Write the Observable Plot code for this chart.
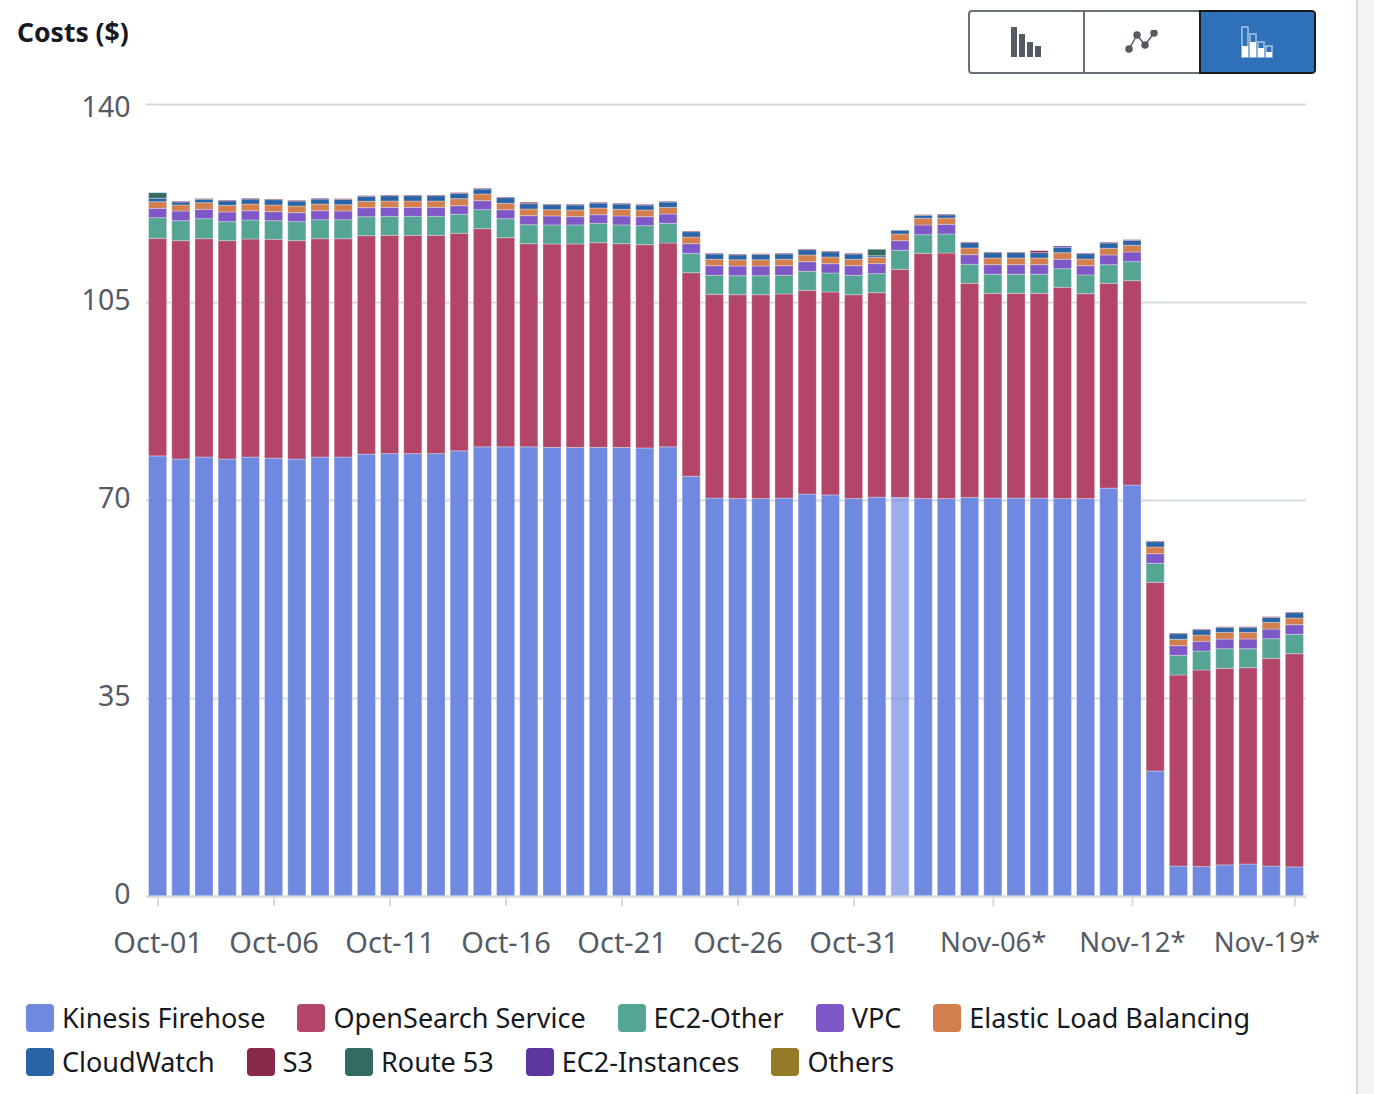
<!DOCTYPE html>
<html><head><meta charset="utf-8">
<script src="https://cdn.jsdelivr.net/npm/d3@7"></script>
<script src="https://cdn.jsdelivr.net/npm/@observablehq/plot@0.6"></script>
<style>
html,body{margin:0;padding:0;background:#fff;overflow:hidden}
body{width:1374px;height:1094px;position:relative;font-family:"Noto Sans",sans-serif}
#chart{position:absolute;left:0;top:0}
#title{position:absolute;left:17px;top:13px;font-size:26.5px;line-height:38px;font-weight:700;color:#16191f}
#btns{position:absolute;left:968px;top:10px;width:344px;height:60px;border:2px solid #687078;border-radius:4px;display:flex;box-sizing:content-box}
#btns div{flex:1;display:flex;align-items:center;justify-content:center;border-right:2px solid #687078;box-sizing:border-box}
#btns div:last-child{border:0;background:#2f71b8;outline:2px solid #16191f;border-radius:0 3px 3px 0}
#legend{position:absolute;left:26px;top:1004px;width:1300px;display:flex;flex-wrap:wrap;column-gap:32px;row-gap:16px;font-size:27px;line-height:28px;color:#16191f}
#legend span.i{display:flex;align-items:center;gap:8px}
#legend b{display:block;width:28px;height:28px;border-radius:4px}
#strip{position:absolute;left:1356px;top:0;width:18px;height:1094px;background:#f2f3f3;border-left:2px solid #d5dbdb;box-sizing:border-box}
</style></head>
<body>
<div id="chart"></div>
<div id="title">Costs ($)</div>
<div id="btns">
<div><svg width="32" height="32" viewBox="0 0 32 32" fill="#545b64"><rect x="0" y="1" width="6" height="30"/><rect x="8" y="8" width="6" height="23"/><rect x="16" y="16" width="6" height="15"/><rect x="24" y="20" width="6" height="11"/></svg></div>
<div><svg width="34" height="24" viewBox="0 0 34 24" fill="#545b64" stroke="#545b64" stroke-width="1.5"><path d="M4 19L12 5L20 15L29 3" fill="none"/><circle cx="4" cy="19" r="3"/><circle cx="12" cy="5" r="3"/><circle cx="20" cy="15" r="3"/><circle cx="29" cy="3" r="3"/></svg></div>
<div><svg width="32" height="32" viewBox="0 0 32 32"><g fill="none" stroke="#a9c6e6" stroke-width="1.5"><rect x="1" y="1" width="6" height="30"/><rect x="9" y="8" width="6" height="23"/><rect x="17" y="16" width="6" height="15"/><rect x="25" y="20" width="6" height="11"/></g><g fill="#fff"><rect x="1" y="20" width="6" height="11"/><rect x="9" y="16" width="6" height="15"/><rect x="17" y="22" width="6" height="9"/><rect x="25" y="26" width="6" height="5"/></g></svg></div>
</div>
<div id="legend"></div>
<div id="strip"></div>
<script>
const days = ["Oct-01","Oct-02","Oct-03","Oct-04","Oct-05","Oct-06","Oct-07","Oct-08","Oct-09","Oct-10","Oct-11","Oct-12","Oct-13","Oct-14","Oct-15","Oct-16","Oct-17","Oct-18","Oct-19","Oct-20","Oct-21","Oct-22","Oct-23","Oct-24","Oct-25","Oct-26","Oct-27","Oct-28","Oct-29","Oct-30","Oct-31","Nov-01","Nov-02","Nov-03","Nov-04","Nov-05","Nov-06*","Nov-07*","Nov-08*","Nov-09*","Nov-10*","Nov-11*","Nov-12*","Nov-13*","Nov-14*","Nov-15*","Nov-16*","Nov-17*","Nov-18*","Nov-19*"];
const octTicks = ["Oct-01","Oct-06","Oct-11","Oct-16","Oct-21","Oct-26","Oct-31"];
const novTicks = ["Nov-06*","Nov-12*"];
const lastTick = ["Nov-19*"];
const highlightDay = "Nov-02";
const seriesNames = ["Kinesis Firehose","OpenSearch Service","EC2-Other","VPC","Elastic Load Balancing","CloudWatch","S3","Route 53","EC2-Instances","Others"];
const seriesColors = ["#6f89e1","#b24568","#55a594","#7f58c8","#d27e4d","#2b64a6","#88284a","#336b62","#5d36a0","#967a28"];
const yTicks = [0,35,70,105,140];
const kinesis = [77.8,77.25,77.6,77.25,77.6,77.4,77.25,77.6,77.6,78.1,78.2,78.2,78.2,78.7,79.4,79.4,79.4,79.3,79.3,79.3,79.3,79.2,79.4,74.2,70.35,70.25,70.25,70.35,71.05,70.9,70.25,70.5,70.45,70.25,70.25,70.45,70.35,70.35,70.35,70.25,70.25,72.1,72.65,22.1,5.3,5.2,5.5,5.65,5.3,5.15];
const openSearch = [38.46,38.59,38.59,38.59,38.54,38.69,38.59,38.59,38.59,38.62,38.59,38.59,38.59,38.45,38.56,36.97,35.91,35.96,35.96,36.18,36.01,35.93,36.03,35.98,36.01,36.04,36.04,36.07,36.02,35.87,36.04,36.15,40.33,43.36,43.41,37.86,36.19,36.19,36.19,37.35,36.22,36.21,36.12,33.35,33.77,34.75,34.75,34.71,36.72,37.68];
const ec2Other = [3.64,3.54,3.54,3.36,3.36,3.29,3.36,3.36,3.36,3.36,3.36,3.36,3.36,3.36,3.36,3.36,3.36,3.36,3.36,3.43,3.31,3.36,3.48,3.43,3.36,3.36,3.36,3.31,3.36,3.36,3.43,3.36,3.36,3.29,3.36,3.36,3.36,3.36,3.36,3.29,3.31,3.29,3.36,3.36,3.48,3.36,3.46,3.36,3.46,3.43];
const vpc = [1.66,1.71,1.66,1.71,1.64,1.59,1.59,1.59,1.54,1.59,1.59,1.59,1.59,1.52,1.59,1.59,1.59,1.59,1.47,1.52,1.59,1.59,1.64,1.70,1.70,1.71,1.71,1.70,1.70,1.64,1.70,1.77,1.70,1.71,1.71,1.70,1.70,1.70,1.70,1.66,1.64,1.71,1.71,1.70,1.70,1.71,1.71,1.71,1.71,1.70];
const elb = [1.17,1.06,1.17,1.18,1.18,1.18,1.18,1.18,1.11,1.13,1.11,1.11,1.11,1.24,1.18,1.13,1.18,1.11,1.18,1.18,1.18,1.18,1.18,1.18,1.13,1.11,1.11,1.13,1.18,1.18,1.13,1.13,1.18,1.18,1.11,1.18,1.18,1.18,1.18,1.17,1.18,1.18,1.18,1.18,1.13,1.11,1.18,1.18,1.18,1.18];
const cloudWatch = [.60,.53,.60,.81,.88,.94,.88,.88,.95,.88,.94,.94,.94,.95,.88,.99,.94,.88,.88,.88,.94,.88,.94,.94,.94,.88,.94,.94,.94,.94,.94,.28,.65,.53,.58,.94,.94,.94,.94,.95,.94,.94,.88,.94,.99,.94,.88,.88,.88,.94];
const s3 = [0,.12,.12,.12,.12,.12,.12,.12,.12,.12,.12,.12,.12,.12,.12,.12,.25,.12,.12,.12,.12,.12,.12,.12,.12,.12,.12,.12,.12,.12,.12,0,0,.12,.12,.12,.12,.12,.35,0,.12,.12,.12,.12,.12,.12,.12,.12,.12,.12];
const route53 = {"Oct-01":.99,"Nov-01":1.13};
const ec2Instances = {"Nov-09*":.23};
const others = {};

const valuesBySeries = [kinesis,openSearch,ec2Other,vpc,elb,cloudWatch,s3,
  days.map(d=>route53[d]||0),days.map(d=>ec2Instances[d]||0),days.map(d=>others[d]||0)];
const rows = seriesNames.flatMap((series,s)=>days.map((day,i)=>({day,series,value:valuesBySeries[s][i]}))).filter(d=>d.value>0);

const plot = Plot.plot({
  width:1374,height:960,marginLeft:146,marginRight:68,marginTop:104,marginBottom:64,
  style:{fontFamily:'"Noto Sans",sans-serif',fontSize:"28px",background:"transparent",color:"#545b64"},
  x:{type:"band",domain:days,paddingInner:0.22,paddingOuter:0.11,round:false,label:null},
  y:{domain:[0,140],label:null},
  color:{domain:seriesNames,range:seriesColors},
  marks:[
    Plot.gridY(yTicks,{stroke:"#d5dbdb",strokeOpacity:1,strokeWidth:2}),
    Plot.barY(rows,{x:"day",y:"value",fill:"series",order:seriesNames,
      fillOpacity:d=>d.day===highlightDay&&d.series==="Kinesis Firehose"?0.68:1,
      stroke:"#fff",strokeOpacity:0.3,strokeWidth:1}),
    Plot.ruleY([0],{stroke:"#d5dbdb",strokeWidth:2}),
    Plot.axisY({ticks:[0,35,70,105],tickSize:0,tickPadding:16,label:null,fill:"#545b64",fontSize:28.5,dy:-1.5}),
    Plot.axisY({ticks:[140],tickSize:0,tickPadding:16,label:null,fill:"#545b64",fontSize:28.5,dy:3}),
    Plot.axisX({ticks:octTicks,tickSize:10,tickPadding:26,label:null,stroke:"#d5dbdb",strokeWidth:2,strokeOpacity:1,fill:"#545b64",fontSize:29}),
    Plot.axisX({ticks:novTicks,tickSize:10,tickPadding:26,label:null,stroke:"#d5dbdb",strokeWidth:2,strokeOpacity:1,fill:"#545b64",fontSize:27.5}),
    Plot.axisX({ticks:lastTick,tickSize:10,tickPadding:26,label:null,stroke:"#d5dbdb",strokeWidth:2,strokeOpacity:1,fill:"none",fontSize:27.5}),
    Plot.text(lastTick,{x:d=>d,frameAnchor:"bottom",dy:55,dx:-28,fill:"#545b64",fontSize:27.5})
  ]
});
document.getElementById("chart").appendChild(plot);
const lg = document.getElementById("legend");
seriesNames.forEach((n,i)=>{
  const s=document.createElement("span");s.className="i";
  const b=document.createElement("b");b.style.background=seriesColors[i];
  const t=document.createElement("span");t.textContent=n;
  s.append(b,t);lg.append(s);
});
</script>
</body></html>
